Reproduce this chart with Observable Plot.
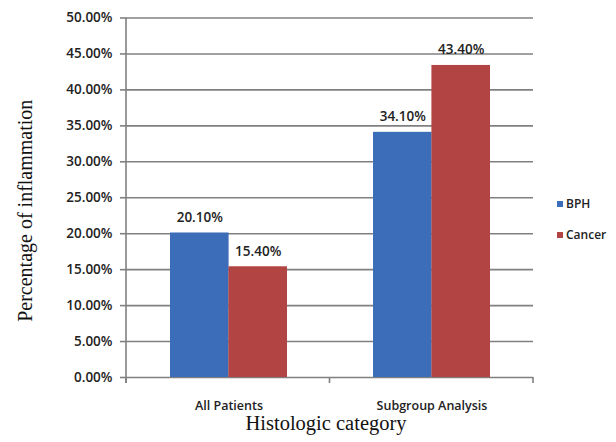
<!DOCTYPE html>
<html>
<head>
<meta charset="utf-8">
<script src="https://cdn.jsdelivr.net/npm/d3@7"></script>
<script src="https://cdn.jsdelivr.net/npm/@observablehq/plot@0.6"></script>
<style>
  html, body { margin: 0; padding: 0; background: #fff; }
  #wrap { position: relative; width: 616px; height: 442px; overflow: hidden; }
  .legend { position: absolute; left: 557px; font-family: "Open Sans", sans-serif; font-weight: 600; font-size: 12px; color: #222; display: flex; align-items: center; white-space: nowrap; }
  .legend span.sw { display: inline-block; width: 6px; height: 6px; margin-right: 3px; }
</style>
</head>
<body>
<div id="wrap"></div>
<script>
const categories = ["All Patients", "Subgroup Analysis"];
const series = ["BPH", "Cancer"];
const bphValues = [0.201, 0.341];
const cancerValues = [0.154, 0.434];
const yTicks = [0, 0.05, 0.10, 0.15, 0.20, 0.25, 0.30, 0.35, 0.40, 0.45, 0.50];
const colors = ["#3c6db8", "#b34444"];
const xTitle = "Histologic category";
const yTitle = "Percentage of inflammation";

const bph = categories.map((c, i) => ({category: c, series: "BPH", value: bphValues[i]}));
const cancer = categories.map((c, i) => ({category: c, series: "Cancer", value: cancerValues[i]}));

const W = 616, H = 442;
const ml = 126, mr = 83, mt = 17.5, mb = 65;
const pI = 0.426, pO = 0.213;
const innerW = W - ml - mr;
const step = innerW / (categories.length - pI + 2 * pO);
const bw = step * (1 - pI);
const fmt = d3.format(".2%");
const tickFont = {fontFamily: "Open Sans, sans-serif", fontWeight: 600};

const plot = Plot.plot({
  width: W, height: H,
  marginLeft: ml, marginRight: mr, marginTop: mt, marginBottom: mb,
  style: {fontFamily: "Open Sans, sans-serif", background: "transparent", color: "#222"},
  x: {type: "band", domain: categories, paddingInner: pI, paddingOuter: pO},
  y: {domain: [0, 0.5]},
  marks: [
    Plot.gridY(yTicks, {stroke: "#808080", strokeOpacity: 1, strokeWidth: 1.6}),
    Plot.barY(bph, {x: "category", y: "value", fill: colors[0], insetRight: bw / 2}),
    Plot.barY(cancer, {x: "category", y: "value", fill: colors[1], insetLeft: bw / 2}),
    Plot.text(bph, {x: "category", y: "value", text: d => fmt(d.value), dx: -bw / 4, dy: -11, lineAnchor: "bottom", fontSize: 13.5, fill: "#222", ...tickFont}),
    Plot.text(cancer, {x: "category", y: "value", text: d => fmt(d.value), dx: bw / 4, dy: -11, lineAnchor: "bottom", fontSize: 13.5, fill: "#222", ...tickFont}),
    Plot.axisY({ticks: yTicks, tickFormat: fmt, tickSize: 6, tickPadding: 8, fontSize: 13.5, label: null, stroke: "#808080", strokeWidth: 1.6, ...tickFont}),
    Plot.axisX({tickSize: 0, tickPadding: 24, fontSize: 12.5, label: null, ...tickFont}),
    Plot.text([xTitle], {frameAnchor: "bottom", textAnchor: "middle", dx: -4, dy: 52, lineAnchor: "bottom", fontFamily: "Liberation Serif, serif", fontSize: 20.5, fill: "#111"}),
    Plot.text([yTitle], {frameAnchor: "left", textAnchor: "middle", rotate: -90, dx: -101, dy: 13, fontFamily: "Liberation Serif, serif", fontSize: 20, fill: "#111"})
  ]
});

// axis line and category boundary ticks from the library's scales
const xs = plot.scale("x");
const ys = plot.scale("y");
const y = Plot.scale({y: ys});
const x0 = xs.range[0], x1 = xs.range[1];
const svg = d3.select(plot);
const g = svg.append("g").attr("stroke", "#808080").attr("stroke-width", 1.6);
g.append("line").attr("x1", x0).attr("x2", x0).attr("y1", y.apply(0.5)).attr("y2", y.apply(0) + 6);
const boundaries = d3.range(categories.length + 1).map(i => x0 + (x1 - x0) * i / categories.length);
boundaries.forEach(b => g.append("line").attr("x1", b).attr("x2", b).attr("y1", y.apply(0)).attr("y2", y.apply(0) + 6));

const wrap = document.getElementById("wrap");
wrap.appendChild(plot);

const legendTops = [195, 226];
series.forEach((s, i) => {
  const d = document.createElement("div");
  d.className = "legend";
  d.style.top = legendTops[i] + "px";
  d.innerHTML = `<span class="sw" style="background:${colors[i]}"></span>${s}`;
  wrap.appendChild(d);
});
</script>
</body>
</html>
